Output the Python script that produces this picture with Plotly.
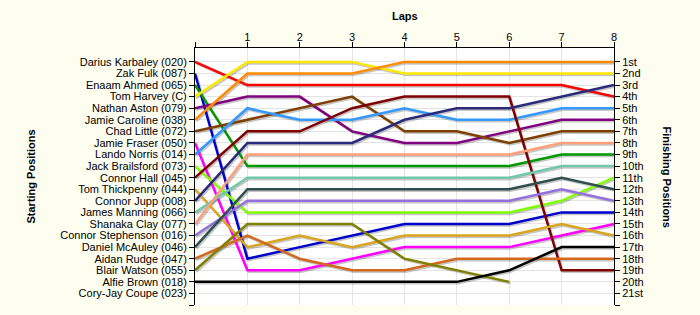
import plotly.graph_objects as go

laps = [0, 1, 2, 3, 4, 5, 6, 7, 8]
lap_labels = ["", "1", "2", "3", "4", "5", "6", "7", "8"]

drivers = [
    "Darius Karbaley (020)", "Zak Fulk (087)", "Enaam Ahmed (065)", "Tom Harvey (C)",
    "Nathan Aston (079)", "Jamie Caroline (038)", "Chad Little (072)", "Jamie Fraser (050)",
    "Lando Norris (014)", "Jack Brailsford (073)", "Connor Hall (045)", "Tom Thickpenny (044)",
    "Connor Jupp (008)", "James Manning (066)", "Shanaka Clay (077)", "Connor Stephenson (016)",
    "Daniel McAuley (046)", "Aidan Rudge (047)", "Blair Watson (055)", "Alfie Brown (018)",
    "Cory-Jay Coupe (023)",
]

finish_labels = ["1st", "2nd", "3rd", "4th", "5th", "6th", "7th", "8th", "9th", "10th",
                 "11th", "12th", "13th", "14th", "15th", "16th", "17th", "18th", "19th",
                 "20th", "21st"]

colors = [
    "#FF0000", "#0000CD", "#009900", "#FFE800", "#800080", "#FF8C00", "#7F3F00",
    "#FF00FF", "#3399FF", "#80FF00", "#800000", "#DAA520", "#2A2A7A", "#70C8A8",
    "#FFA07A", "#9370DB", "#2F4F4F", "#D2691E", "#808000", "#000000", None,
]

# positions at laps 0..8 for each driver (same order as drivers)
positions = [
    [1, 3, 3, 3, 3, 3, 3, 3, 4],
    [2, 18, 17, 16, 15, 15, 15, 14, 14],
    [3, 10, 10, 10, 10, 10, 10, 9, 9],
    [4, 1, 1, 1, 2, 2, 2, 2, 2],
    [5, 4, 4, 7, 8, 8, 7, 6, 6],
    [6, 2, 2, 2, 1, 1, 1, 1, 1],
    [7, 6, 5, 4, 7, 7, 8, 7, 7],
    [8, 19, 19, 18, 17, 17, 17, 16, 15],
    [9, 5, 6, 6, 5, 6, 6, 5, 5],
    [10, 14, 14, 14, 14, 14, 14, 13, 11],
    [11, 7, 7, 5, 4, 4, 4, 19, 19],
    [12, 17, 16, 17, 16, 16, 16, 15, 16],
    [13, 8, 8, 8, 6, 5, 5, 4, 3],
    [14, 11, 11, 11, 11, 11, 11, 10, 10],
    [15, 9, 9, 9, 9, 9, 9, 8, 8],
    [16, 13, 13, 13, 13, 13, 13, 12, 13],
    [17, 12, 12, 12, 12, 12, 12, 11, 12],
    [18, 16, 18, 19, 19, 18, 18, 18, 18],
    [19, 15, 15, 15, 18, 19, 20, None, None],
    [20, 20, 20, 20, 20, 20, 19, 17, 17],
    [],
]

fig = go.Figure()

# drop shadows
for pos, col in zip(positions, colors):
    if not pos or col is None:
        continue
    fig.add_trace(go.Scatter(
        x=[l + 0.025 for l in laps[:len(pos)]],
        y=[None if p is None else p + 0.13 for p in pos],
        mode="lines", line=dict(color="rgba(0,0,0,0.22)", width=2.5),
        hoverinfo="skip", showlegend=False))

for name, pos, col in zip(drivers, positions, colors):
    if not pos or col is None:
        continue
    fig.add_trace(go.Scatter(
        x=laps[:len(pos)], y=pos, mode="lines", name=name,
        line=dict(color=col, width=2.5), showlegend=False))

# invisible trace for right axis
fig.add_trace(go.Scatter(x=[0], y=[1], yaxis="y2", mode="markers",
                         marker=dict(opacity=0), hoverinfo="skip", showlegend=False))

yr = [22, -0.2]
fig.update_layout(
    width=700, height=315,
    margin=dict(l=195, r=86, t=48, b=10),
    paper_bgcolor="#FDFDF0", plot_bgcolor="#FFFFFF",
    font=dict(family="Liberation Sans, Arial, sans-serif", size=11, color="#000000"),
    showlegend=False,
    xaxis=dict(side="top", range=[0, 8], tickvals=laps, ticktext=lap_labels,
               ticks="outside", ticklen=5, tickcolor="#000000", ticklabelstandoff=-3,
               showline=True, linecolor="#000000", linewidth=1,
               showgrid=True, gridcolor="#E4E4E4", zeroline=False, fixedrange=True),
    yaxis=dict(range=yr, tickvals=list(range(1, 23)), ticktext=drivers + [""],
               ticks="outside", ticklen=5, tickcolor="#000000",
               showline=True, linecolor="#000000", linewidth=1,
               showgrid=True, gridcolor="#E4E4E4", zeroline=False, fixedrange=True),
    yaxis2=dict(range=yr, overlaying="y", side="right",
                tickvals=list(range(1, 23)), ticktext=finish_labels + [""],
                ticks="outside", ticklen=5, tickcolor="#000000",
                showline=True, linecolor="#000000", linewidth=1,
                showgrid=False, zeroline=False, fixedrange=True),
    annotations=[
        dict(text="<b>Laps</b>", xref="paper", yref="paper", x=0.5, y=1 + 32 / 257,
             xanchor="center", yanchor="middle", showarrow=False),
        dict(text="<b>Starting Positions</b>", xref="paper", yref="paper",
             x=(30 - 195) / 419, y=0.5, textangle=-90,
             xanchor="center", yanchor="middle", showarrow=False),
        dict(text="<b>Finishing Positions</b>", xref="paper", yref="paper",
             x=(667 - 195) / 419, y=0.5, textangle=90,
             xanchor="center", yanchor="middle", showarrow=False),
    ],
)

fig.write_html("out.html")
